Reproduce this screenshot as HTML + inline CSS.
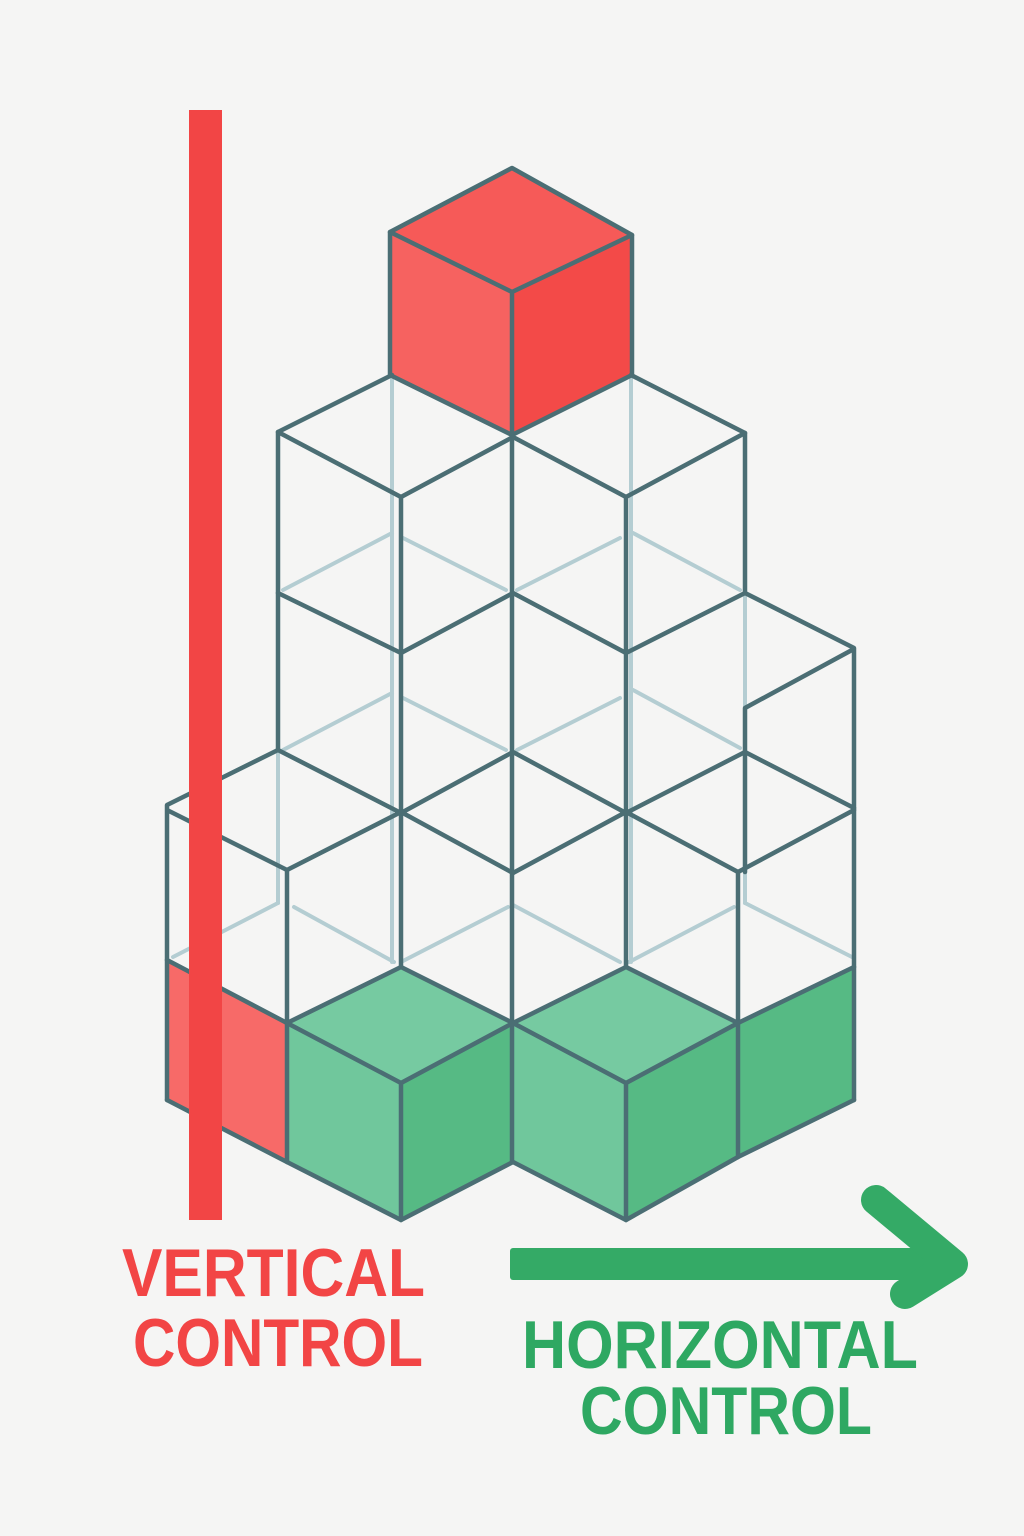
<!DOCTYPE html>
<html><head><meta charset="utf-8"><style>
html,body{margin:0;padding:0;background:#f5f5f4;}
svg{display:block}
</style></head><body>
<svg width="1024" height="1536" viewBox="0 0 1024 1536" xmlns="http://www.w3.org/2000/svg">
<rect width="1024" height="1536" fill="#f5f5f4"/>
<polygon points="512,168 632,235 512,292 390,232" fill="#f65a58"/>
<polygon points="390,232 512,292 512,435 390,375" fill="#f66260"/>
<polygon points="512,292 632,235 632,375 512,435" fill="#f34a48"/>
<polygon points="167,960 287,1023 287,1162 167,1100" fill="#f76a68"/>
<polygon points="287,1023 401,967 513,1023 401,1083" fill="#76caa1"/>
<polygon points="287,1023 401,1083 401,1220 287,1162" fill="#70c79c"/>
<polygon points="401,1083 513,1023 513,1162 401,1220" fill="#56ba84"/>
<polygon points="513,1023 626,967 738,1023 626,1083" fill="#76caa1"/>
<polygon points="513,1023 626,1083 626,1220 513,1162" fill="#70c79c"/>
<polygon points="626,1083 738,1023 738,1157 626,1220" fill="#56ba84"/>
<polygon points="738,1023 854,967 854,1100 738,1157" fill="#56ba84"/>
<g stroke="#b4cdd2" stroke-width="4" fill="none" stroke-linecap="round">
<line x1="392" y1="378" x2="392" y2="962"/>
<line x1="631" y1="378" x2="631" y2="962"/>
<line x1="745" y1="593" x2="745" y2="708"/>
<line x1="745" y1="872" x2="745" y2="903"/>
<line x1="278" y1="750" x2="278" y2="903"/>
<path d="M392,533 L283,590 M403,538 L506,590 M620,538 L517,590 M633,533 L740,590"/>
<path d="M392,693 L283,750 M403,698 L506,750 M620,698 L517,750 M633,690 L740,748"/>
<path d="M278,903 L173,957 M294,907 L394,962 M401,962 L508,907 M513,905 L620,962 M629,962 L734,907 M745,903 L854,958"/>
</g>
<g stroke="#4b6e74" stroke-width="4.5" fill="none" stroke-linejoin="round" stroke-linecap="round">
<polygon points="512,168 632,235 632,375 512,435 390,375 390,232"/>
<path d="M390,232 L512,292 L632,235 M512,292 L512,1162"/>
<path d="M392,375 L278,432 L401,497 L513,437 L626,497 L745,433 L631,375"/>
<path d="M278,432 L278,750 M401,497 L401,967 M626,497 L626,967 M745,433 L745,593"/>
<path d="M278,593 L401,653 L513,593 L626,653 L745,593 L854,648 L854,1100"/>
<path d="M852,650 L745,708 L745,872"/>
<path d="M278,750 L401,813 L513,752 L626,813 L745,752 L854,808"/>
<path d="M278,750 L167,805 L167,1100 M167,810 L287,870 L401,812 M513,873 L626,812 L738,872 L854,810"/>
<path d="M401,812 L513,873 M287,870 L287,1162 M738,872 L738,1157"/>
<path d="M167,960 L287,1023 L401,967 L513,1023 L626,967 L738,1023 L854,967"/>
<path d="M287,1023 L401,1083 L513,1023 L626,1083 L738,1023"/>
<path d="M401,1083 L401,1220 M626,1083 L626,1220"/>
<path d="M167,1100 L287,1162 L401,1220 L513,1162 L626,1220 L738,1157 L854,1100"/>
</g>
<rect x="189" y="110" width="33" height="1110" fill="#f24545"/>
<rect x="510" y="1248" width="440" height="32" rx="3" fill="#34aa66"/>
<polyline points="876,1200 953,1264 905,1294" fill="none" stroke="#34aa66" stroke-width="30" stroke-linecap="round" stroke-linejoin="round"/>
<g font-family="Liberation Sans, sans-serif" font-weight="bold" font-size="68">
<text x="122" y="1296" textLength="303" lengthAdjust="spacingAndGlyphs" fill="#f24545">VERTICAL</text>
<text x="133" y="1366" textLength="290" lengthAdjust="spacingAndGlyphs" fill="#f24545">CONTROL</text>
<text x="522" y="1368" textLength="396" lengthAdjust="spacingAndGlyphs" fill="#2ea862">HORIZONTAL</text>
<text x="580" y="1434" textLength="292" lengthAdjust="spacingAndGlyphs" fill="#2ea862">CONTROL</text>
</g>
</svg>
</body></html>
